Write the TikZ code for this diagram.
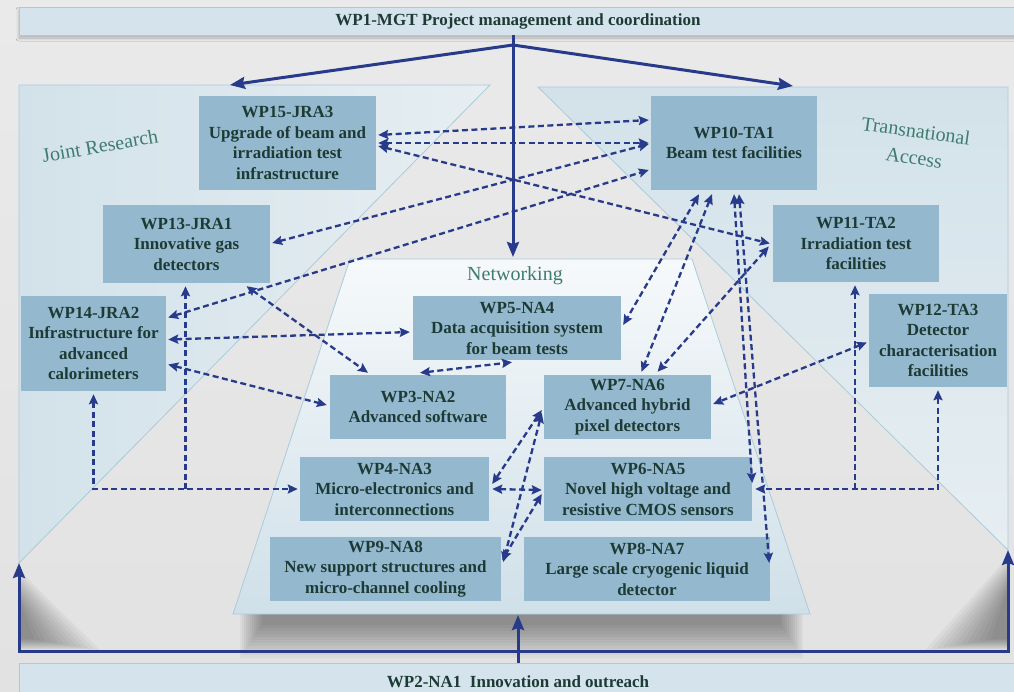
\documentclass[tikz,border=0pt]{standalone}
\usepackage{fontspec}
\setmainfont{Liberation Serif}
\usetikzlibrary{arrows.meta,calc,shadows.blur}
\definecolor{bgc}{HTML}{E2E2E2}
\definecolor{bgtop}{HTML}{EAEAEA}
\definecolor{panelc}{HTML}{D3E2EA}
\definecolor{panellight}{HTML}{E6EEF2}
\definecolor{panelline}{HTML}{A9CBDA}
\definecolor{boxc}{HTML}{94B9CE}
\definecolor{txt}{HTML}{1E3A35}
\definecolor{arr}{HTML}{283A8A}
\definecolor{lab}{HTML}{3E7C70}
\definecolor{barc}{HTML}{D5E4EC}
\tikzset{
  darr/.tip={Stealth[length=10pt,width=9pt,inset=1.5pt]},
  sarr/.tip={Stealth[length=15pt,width=12pt,inset=2pt]}
}
\begin{document}
\begin{tikzpicture}[x=1pt,y=-1pt,
  box/.style={fill=boxc, text=txt, font=\bfseries\fontsize{17}{20.5}\selectfont, align=center, inner sep=0pt},
  barnode/.style={fill=barc, draw=panelline, line width=0.8pt, text=txt, font=\bfseries\fontsize{17}{20}\selectfont, inner sep=0pt},
  dsh/.style={draw=arr, line width=2.3pt, dash pattern=on 6pt off 3.5pt, darr-darr},
  dshone/.style={draw=arr, line width=2.3pt, dash pattern=on 6pt off 3.5pt, -darr},
  sol/.style={draw=arr, line width=3pt, -sarr},
  lbl/.style={text=lab, font=\fontsize{20}{25}\selectfont, align=center},
  panel/.style={draw=panelline, line width=0.8pt},
  shadelayer/.style={fill=black, fill opacity=0.035}
]
\useasboundingbox (0,0) rectangle (1014,691);
\shade[top color=bgtop, bottom color=bgc] (0,0) rectangle (1014,691);

% bars
\node[barnode, minimum width=998pt, minimum height=28pt, blur shadow={shadow xshift=0pt, shadow yshift=-3pt, shadow blur radius=3pt, shadow blur steps=8, shadow opacity=25}] (wp1) at (518,21) {WP1-MGT Project management and coordination};
\node[barnode, minimum width=998pt, minimum height=38pt] (wp2) at (518,682) {WP2-NA1\ \ Innovation and outreach};

% soft shadows under the panels (stacked translucent layers)
\foreach \i in {0,...,11} {
  \fill[shadelayer] (240+2*\i,612) rectangle (803-2*\i,658-3*\i);
  \fill[shadelayer] (21,572+3*\i) -- (21,650-\i) -- (100-6*\i,650-\i) -- cycle;
  \fill[shadelayer] (1007,558+3*\i) -- (1007,650-\i) -- (925+6*\i,650-\i) -- cycle;
}

% panels
\path[panel, left color=panelc, right color=panellight] (19,85) -- (490,85) -- (19,563) -- cycle;
\path[panel, top color=panelc, bottom color=panellight] (538,87) -- (1008,87) -- (1008,550) -- cycle;
\path[panel, top color=white!80!panelc, bottom color=panelc!95!boxc] (350,259) -- (692,259) -- (810,614) -- (233,614) -- cycle;

% labels
\node[lbl, rotate=10] (ljr) at (100,146) {Joint Research};
\node[lbl, rotate=-8] (lta1) at (916,131) {Transnational};
\node[lbl, rotate=-8] (lta2) at (914,158) {Access};
\node[lbl] (lnet) at (515,276) {Networking};

% boxes
\node[box, minimum width=177pt, minimum height=94pt] (wp15) at (287.5,143) {WP15-JRA3\\Upgrade of beam and\\irradiation test\\infrastructure};
\node[box, minimum width=167pt, minimum height=78pt] (wp13) at (186.5,244) {WP13-JRA1\\Innovative gas\\detectors};
\node[box, minimum width=145pt, minimum height=95pt] (wp14) at (93.5,343.5) {WP14-JRA2\\Infrastructure for\\advanced\\calorimeters};
\node[box, minimum width=166pt, minimum height=94pt] (wp10) at (734,143) {WP10-TA1\\Beam test facilities};
\node[box, minimum width=166pt, minimum height=77pt] (wp11) at (856,243.5) {WP11-TA2\\Irradiation test\\facilities};
\node[box, minimum width=138pt, minimum height=93pt] (wp12) at (938,340.5) {WP12-TA3\\Detector\\characterisation\\facilities};
\node[box, minimum width=208pt, minimum height=64pt] (wp5) at (517,328) {WP5-NA4\\Data acquisition system\\for beam tests};
\node[box, minimum width=176pt, minimum height=64pt] (wp3) at (418,407) {WP3-NA2\\Advanced software};
\node[box, minimum width=167pt, minimum height=64pt] (wp7) at (627.5,407) {WP7-NA6\\Advanced hybrid\\pixel detectors};
\node[box, minimum width=189pt, minimum height=64pt] (wp4) at (394.5,489) {WP4-NA3\\Micro-electronics and\\interconnections};
\node[box, minimum width=208pt, minimum height=64pt] (wp6) at (648,489) {WP6-NA5\\Novel high voltage and\\resistive CMOS sensors};
\node[box, minimum width=231pt, minimum height=64pt] (wp9) at (385.5,569) {WP9-NA8\\New support structures and\\micro-channel cooling};
\node[box, minimum width=246pt, minimum height=64pt] (wp8) at (647,569) {WP8-NA7\\Large scale cryogenic liquid\\detector};

% solid connectors
\coordinate (br) at (513,45);
\coordinate (nt) at (513,257);
\coordinate (jrt) at (230,85);
\coordinate (tat) at (793,86);
\draw[sol] (wp1.south -| br) -- (nt);
\draw[sol] (br) -- (jrt);
\draw[sol] (br) -- (tat);
\coordinate (nb) at (518,615);
\draw[sol] (wp2.north -| nb) -- (nb);
\coordinate (lc) at (19,563);
\coordinate (bl) at (19,651);
\coordinate (bre) at (1008,651);
\coordinate (rc) at (1008,550);
\draw[sol, sarr-sarr] (lc) -- (bl) -- (bre) -- (rc);

% dashed connectors
\draw[dsh] ($(wp15.east)+(2,-8)$) -- ($(wp10.west)+(-2,-23)$);
\draw[dsh] ($(wp15.east)+(2,0)$) -- ($(wp10.west)+(-2,0)$);
\draw[dsh] ($(wp15.east)+(2,3)$) -- ($(wp11.west)+(-3,0)$);
\draw[dsh] ($(wp13.east)+(2,-1)$) -- ($(wp10.west)+(-2,1)$);
\draw[dsh] ($(wp14.east)+(2,-26)$) -- ($(wp10.west)+(-2,27)$);
\draw[dsh] ($(wp13.south)+(60,3)$) -- ($(wp3.north)+(-50,-2)$);
\draw[dsh] ($(wp14.east)+(2,-4)$) -- ($(wp5.west)+(-3,4)$);
\draw[dsh] ($(wp14.east)+(2,21)$) -- ($(wp3.west)+(-3,-2)$);
\draw[dsh] ($(wp3.north)+(2,-2)$) -- ($(wp5.south)+(-5,2)$);
\draw[dsh] ($(wp14.south)+(0,3)$) |- ($(wp4.west)+(-2,0)$);
\coordinate (jl) at (185.5,489);
\draw[dshone] (jl) -- ($(wp13.south)+(-1,3)$);
\draw[dsh] ($(wp12.south)+(0,3)$) |- ($(wp6.east)+(3,0)$);
\coordinate (jr) at (855,489);
\draw[dshone] (jr) -- ($(wp11.south)+(-1,3)$);
\draw[dsh] ($(wp10.south)+(-35,4)$) -- ($(wp5.east)+(2,-3)$);
\draw[dsh] ($(wp10.south)+(-22,4)$) -- ($(wp7.north)+(14,-3)$);
\draw[dsh] ($(wp11.west)+(-4,3)$) -- ($(wp7.north)+(30,-3)$);
\draw[dsh] ($(wp10.south)+(0,4)$) -- ($(wp6.east)+(0,-6)$);
\draw[dsh] ($(wp10.south)+(5,4)$) -- ($(wp8.east)+(-1,-6)$);
\draw[dsh] ($(wp12.west)+(-2,2)$) -- ($(wp7.east)+(2,-3)$);
\draw[dsh] ($(wp7.west)+(-2,3)$) -- ($(wp4.east)+(3,-5)$);
\draw[dsh] ($(wp4.east)+(3,0)$) -- ($(wp6.west)+(-2,1)$);
\draw[dsh] ($(wp7.west)+(-2,6)$) -- ($(wp9.east)+(2,-7)$);
\draw[dsh] ($(wp6.west)+(-2,5)$) -- ($(wp9.east)+(1,-9)$);
\end{tikzpicture}
\end{document}
